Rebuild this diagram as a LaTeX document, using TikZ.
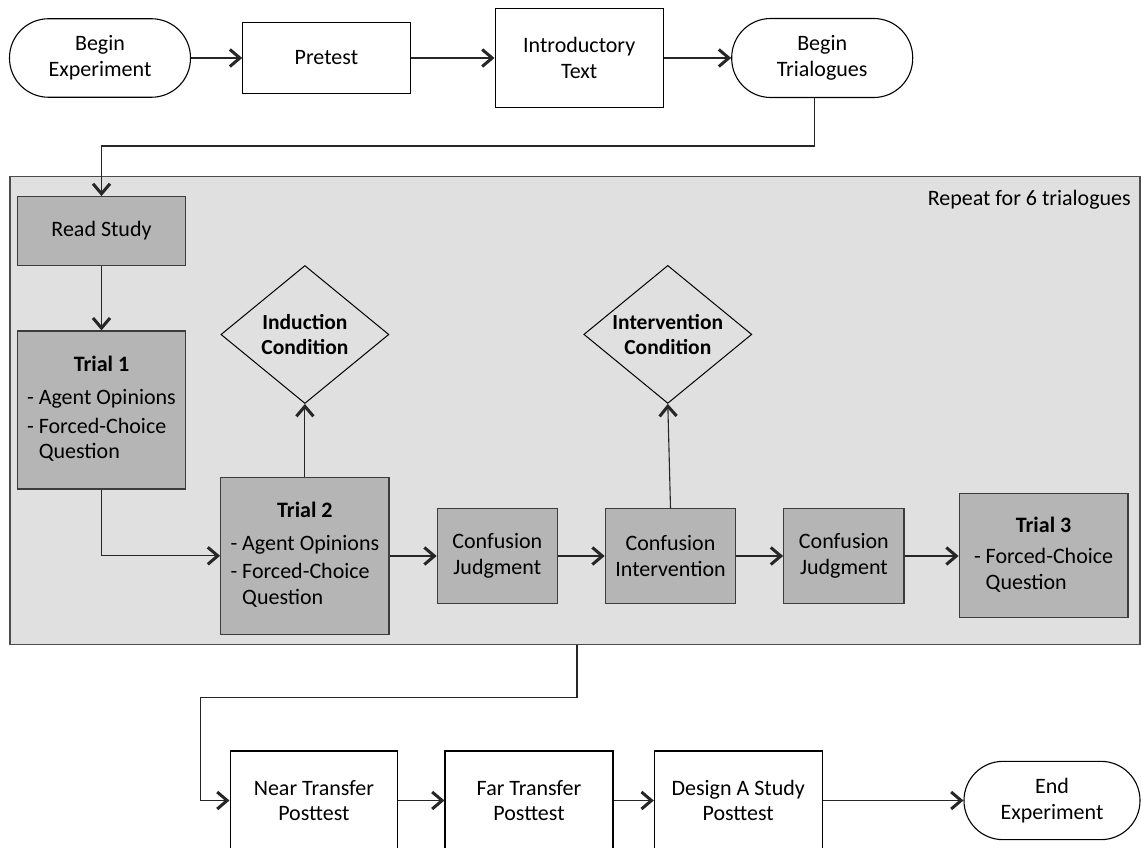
\documentclass[tikz,border=0pt]{standalone}
\usepackage{fontspec}
\setmainfont{Carlito}
\usetikzlibrary{arrows.meta,shapes.geometric}
\definecolor{bgregion}{RGB}{224,224,224}
\definecolor{boxgray}{RGB}{181,181,181}
\definecolor{edgegray}{RGB}{60,60,60}
\begin{document}
\begin{tikzpicture}[x=1pt,y=-1pt,
  every node/.style={font=\fontsize{22}{25.8}\selectfont, align=center, inner sep=0pt},
  wbox/.style={draw=black, line width=1.1pt, fill=white},
  term/.style={wbox, rounded corners=39pt},
  gbox/.style={draw=edgegray, line width=1.3pt, fill=boxgray},
  cond/.style={diamond, draw=black, line width=1pt, minimum width=168pt, minimum height=138pt},
  conn/.style={draw=black!85, line width=1.1pt, line join=miter,
    -{Straight Barb[length=10pt,width=17pt,line width=3pt]}}
]
\useasboundingbox (0,0) rectangle (1141,848);
\clip (0,0) rectangle (1141,848);
\fill[white] (0,0) rectangle (1141,848);

% repeat region
\node[draw=black!70, line width=1.5pt, fill=bgregion, minimum width=1130pt, minimum height=467.6pt] (rep) at (575,410.5) {};
\node[anchor=east] (replbl) at (1131,200) {Repeat for 6 trialogues};

% top row
\node[term, minimum width=181pt, minimum height=78.5pt] (be) at (100,58) {Begin\\Experiment};
\node[wbox, minimum width=167.3pt, minimum height=70.7pt] (pre) at (326.4,58) {Pretest};
\node[wbox, minimum width=168.3pt, minimum height=98.6pt] (intro) at (579.2,58) {Introductory\\Text};
\node[term, minimum width=181pt, minimum height=79pt] (bt) at (822.2,58) {Begin\\Trialogues};

% inside the repeat region
\node[gbox, minimum width=168.4pt, minimum height=68.6pt] (rs) at (101.5,231) {Read Study};
\node[gbox, minimum width=168.4pt, minimum height=158pt] (t1) at (101.5,410)
  {\begin{tabular}{@{}l@{}}\multicolumn{1}{@{}c@{}}{\textbf{Trial 1}}\\[7pt]
   - Agent Opinions\\[3pt] - Forced-Choice\\ \phantom{- }Question\end{tabular}};
\node[gbox, minimum width=168.3pt, minimum height=157pt] (t2) at (304.9,555.8)
  {\begin{tabular}{@{}l@{}}\multicolumn{1}{@{}c@{}}{\textbf{Trial 2}}\\[7pt]
   - Agent Opinions\\[3pt] - Forced-Choice\\ \phantom{- }Question\end{tabular}};
\node[gbox, minimum width=120pt, minimum height=94.6pt] (cj1) at (497.3,556) {Confusion\\Judgment};
\node[gbox, minimum width=130.4pt, minimum height=94.6pt] (ci) at (670.5,556) {Confusion\\Intervention};
\node[gbox, minimum width=120.3pt, minimum height=94.6pt] (cj2) at (843.9,556) {Confusion\\Judgment};
\node[gbox, minimum width=168.7pt, minimum height=124pt] (t3) at (1043.6,555.7)
  {\begin{tabular}{@{}l@{}}\multicolumn{1}{@{}c@{}}{\textbf{Trial 3}}\\[5pt]
   - Forced-Choice\\ \phantom{- }Question\end{tabular}};
\node[cond, label={[font=\fontsize{21.5}{25}\selectfont\bfseries, align=center]center:Induction\\Condition}] (ind) at (304.9,334.5) {};
\node[cond, label={[font=\fontsize{21.5}{25}\selectfont\bfseries, align=center]center:Intervention\\Condition}] (intv) at (667.8,334.4) {};

% bottom row
\node[wbox, minimum width=167.7pt, minimum height=99pt] (nt) at (313.9,800.5) {Near Transfer\\Posttest};
\node[wbox, minimum width=168pt, minimum height=99pt] (ft) at (529,800.5) {Far Transfer\\Posttest};
\node[wbox, minimum width=167.7pt, minimum height=99pt] (ds) at (738.2,800.5) {Design A Study\\Posttest};
\node[term, minimum width=176pt, minimum height=78.3pt] (ee) at (1052,800.5) {End\\Experiment};

% connectors
\draw[conn] (be) -- (pre);
\draw[conn] (pre) -- (intro);
\draw[conn] (intro) -- (bt);
\draw[conn] ([xshift=-8pt]bt.south) -- ++(0,48) -| (rs.north);
\draw[conn] (rs) -- (t1);
\draw[conn] (t1.south) |- (t2.west);
\draw[conn] (t2.north) -- (ind.south);
\draw[conn] (t2.east |- cj1.west) -- (cj1.west);
\draw[conn] (cj1) -- (ci);
\draw[conn] (ci.north) -- (intv.south);
\draw[conn] (ci) -- (cj2);
\draw[conn] (cj2.east) -- (t3.west |- cj2.east);
\coordinate (turn) at (200.7,697.7);
\draw[conn] ([xshift=2pt]rep.south) |- (turn) |- (nt.west);
\draw[conn] (nt) -- (ft);
\draw[conn] (ft) -- (ds);
\draw[conn] (ds.east) -- (ee.west |- ds.east);
\end{tikzpicture}
\end{document}
